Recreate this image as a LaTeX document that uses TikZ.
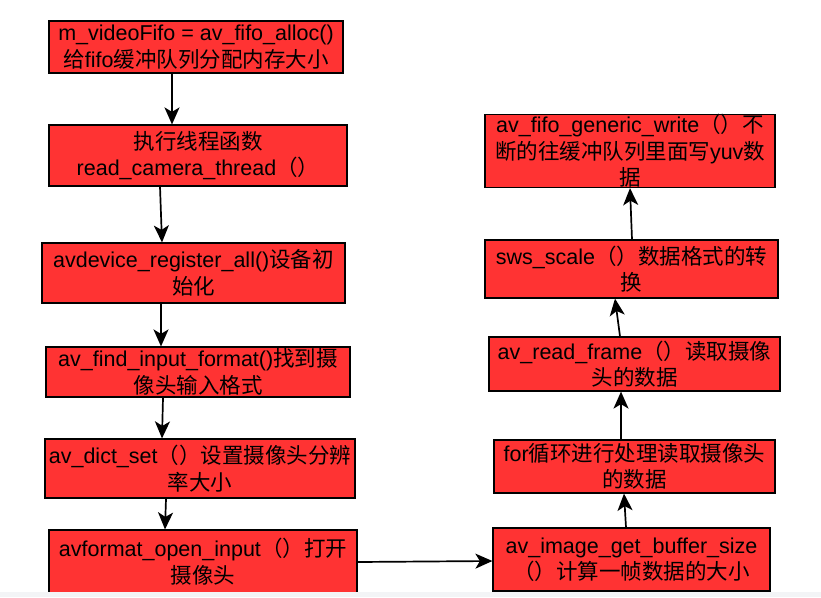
\documentclass[tikz,border=0pt]{standalone}
\usepackage{fontspec}
\setmainfont{Liberation Sans}
\newfontfamily\cjk{Noto Sans CJK SC}
\newcommand{\zhs}[1]{{\cjk #1}}
\usetikzlibrary{arrows.meta}
\definecolor{boxred}{RGB}{255,51,51}
\definecolor{stripgray}{RGB}{243,244,246}
\tikzset{
  box/.style={draw=black, line width=1.2pt, fill=boxred, inner sep=0pt, align=center,
    font=\fontsize{21.5}{26.5}\selectfont, text=black},
  arr/.style={draw=black, line width=1.7pt, -{Stealth[length=17pt,width=15pt,inset=4.5pt]}}
}
\begin{document}
\begin{tikzpicture}[x=1pt,y=-1pt]
\fill[white] (0,0) rectangle (821,597);
\useasboundingbox (0,0) rectangle (821,597);
% left column
\node[box, minimum width=294pt, minimum height=52pt] (n1) at (196,47)
  {m\_videoFifo = av\_fifo\_alloc()\\\zhs{给}fifo\zhs{缓冲队列分配内存大小}};
\node[box, minimum width=298pt, minimum height=61pt] (n2) at (198,155.5)
  {\zhs{执行线程函数}\\read\_camera\_thread\zhs{（）}};
\node[box, minimum width=303pt, minimum height=60pt] (n3) at (193.5,273)
  {avdevice\_register\_all()\zhs{设备初}\\\zhs{始化}};
\node[box, minimum width=304pt, minimum height=50pt] (n4) at (198,372)
  {av\_find\_input\_format()\zhs{找到摄}\\\zhs{像头输入格式}};
\node[box, minimum width=310pt, minimum height=59pt] (n5) at (200,468.5)
  {av\_dict\_set\zhs{（）设置摄像头分辨}\\\zhs{率大小}};
\node[box, minimum width=308pt, minimum height=63pt] (n6) at (203,561.5)
  {avformat\_open\_input\zhs{（）打开}\\\zhs{摄像头}};
% right column
\node[box, minimum width=277pt, minimum height=63pt] (n7) at (631.5,559.5)
  {av\_image\_get\_buffer\_size\\\zhs{（）计算一帧数据的大小}};
\node[box, minimum width=281pt, minimum height=53pt] (n8) at (634.5,466.5)
  {for\zhs{循环进行处理读取摄像头}\\\zhs{的数据}};
\node[box, minimum width=291pt, minimum height=54pt] (n9) at (634.5,364)
  {av\_read\_frame\zhs{（）读取摄像}\\\zhs{头的数据}};
\node[box, minimum width=293pt, minimum height=58pt] (n10) at (631.5,269)
  {sws\_scale\zhs{（）数据格式的转}\\\zhs{换}};
\node[box, minimum width=290pt, minimum height=72pt] (n11) at (630,151)
  {av\_fifo\_generic\_write\zhs{（）不}\\\zhs{断的往缓冲队列里面写}yuv\zhs{数}\\\zhs{据}};
% connectors
\draw[arr] (172,0 |- n1.south) -- (172,0 |- n2.north);
\draw[arr] (160,0 |- n2.south) -- (162,0 |- n3.north);
\draw[arr] (161,0 |- n3.south) -- (161,0 |- n4.north);
\draw[arr] (163,0 |- n4.south) -- (162,0 |- n5.north);
\draw[arr] (166,0 |- n5.south) -- (165,0 |- n6.north);
\draw[arr] (n6.east |- 0,562) -- (n7.west |- 0,561);
\draw[arr] (626,0 |- n7.north) -- (624,0 |- n8.south);
\draw[arr] (621,0 |- n8.north) -- (621,0 |- n9.south);
\draw[arr] (620,0 |- n9.north) -- (615,0 |- n10.south);
\draw[arr] (632,0 |- n10.north) -- (630,0 |- n11.south);
% bottom strip
\fill[stripgray] (0,592) rectangle (821,597);
\end{tikzpicture}
\end{document}
